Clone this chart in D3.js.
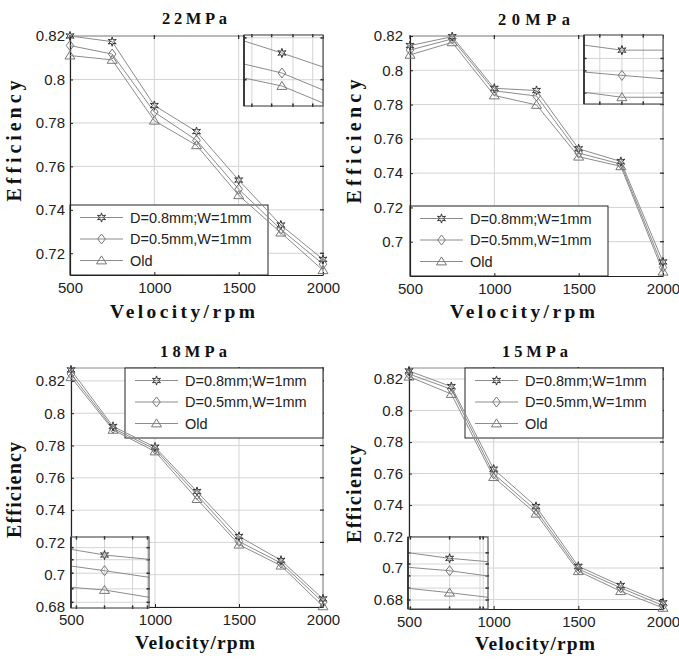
<!DOCTYPE html>
<html>
<head>
<meta charset="utf-8">
<script src="https://cdn.jsdelivr.net/npm/d3@7"></script>
<style>
  body { margin: 0; background: #fff; }
  svg { display: block; }
</style>
</head>
<body>
<svg id="chart" width="679" height="662"></svg>
<script>
// ---- data -------------------------------------------------------------
const velocity = [500, 750, 1000, 1250, 1500, 1750, 2000];
const seriesNames = ["D=0.8mm;W=1mm", "D=0.5mm,W=1mm", "Old"];
const xTicks = [500, 1000, 1500, 2000];

// efficiency per series, in the order of seriesNames
const eff22 = [
  [0.8200, 0.8174, 0.7880, 0.7760, 0.7537, 0.7330, 0.7172],
  [0.8156, 0.8117, 0.7850, 0.7720, 0.7495, 0.7310, 0.7150],
  [0.8110, 0.8090, 0.7810, 0.7697, 0.7467, 0.7295, 0.7122]
];
const eff20 = [
  [0.8144, 0.8196, 0.7895, 0.7882, 0.7542, 0.7468, 0.6882],
  [0.8118, 0.8183, 0.7880, 0.7850, 0.7517, 0.7453, 0.6850],
  [0.8090, 0.8163, 0.7853, 0.7798, 0.7496, 0.7440, 0.6825]
];
const eff18 = [
  [0.8268, 0.7918, 0.7790, 0.7515, 0.7237, 0.7089, 0.6850],
  [0.8243, 0.7907, 0.7777, 0.7495, 0.7206, 0.7072, 0.6829],
  [0.8223, 0.7897, 0.7763, 0.7468, 0.7186, 0.7056, 0.6804]
];
const eff15 = [
  [0.8251, 0.8152, 0.7628, 0.7391, 0.7011, 0.6889, 0.6779],
  [0.8232, 0.8135, 0.7598, 0.7366, 0.6994, 0.6874, 0.6762],
  [0.8215, 0.8105, 0.7577, 0.7345, 0.6980, 0.6853, 0.6747]
];

const yTicks22 = [0.72, 0.74, 0.76, 0.78, 0.8, 0.82];
const yTicks20 = [0.7, 0.72, 0.74, 0.76, 0.78, 0.8, 0.82];
const yTicks18 = [0.68, 0.7, 0.72, 0.74, 0.76, 0.78, 0.8, 0.82];
const yTicks15 = [0.68, 0.7, 0.72, 0.74, 0.76, 0.78, 0.8, 0.82];

// close-up windows: velocities [left edge, point, right edge] and values per series
const insetV22 = [1726, 1750, 1776];
const inset22 = [[0.7340, 0.7328, 0.7314], [0.7317, 0.7308, 0.7291], [0.7303, 0.7295, 0.7278]];
const insetV20 = [1726, 1750, 1776];
const inset20 = [[0.7471, 0.7468, 0.7468], [0.7455, 0.7453, 0.7451], [0.7443, 0.7440, 0.7440]];
const insetV18 = [978.5, 1000, 1028.5];
const inset18 = [[0.77957, 0.7790, 0.77857], [0.77790, 0.77743, 0.77677], [0.77577, 0.7755, 0.77477]];
const insetV15 = [974, 1000, 1024];
const inset15 = [[0.76336, 0.7628, 0.76246], [0.7619, 0.76156, 0.76103], [0.7598, 0.75936, 0.7589]];

// ---- layout -----------------------------------------------------------
const panels = [
  { title: "22MPa", data: eff22, yTicks: yTicks22, yDomain: [0.71, 0.82],
    box: { l: 70, r: 323, t: 36, b: 275 }, legend: "bl", ytPad: 5,
    title_: { x: 194.5, y: 24, len: 65 }, xLab: { x: 182.5, y: 318, len: 145 }, yLab: { x: 21, y: 141, len: 121 },
    inset: { v: insetV22, vals: inset22, dom: [0.7275, 0.7346], l: 244, r: 323, t: 35, b: 106,
             gx: [0.10, 0.35, 0.62, 0.87], gy: [0.04, 0.63] } },
  { title: "20MPa", data: eff20, yTicks: yTicks20, yDomain: [0.68, 0.82],
    box: { l: 410, r: 663, t: 36, b: 276 }, legend: "bl", ytPad: 7,
    title_: { x: 534, y: 25, len: 72 }, xLab: { x: 522.5, y: 318, len: 145 }, yLab: { x: 361, y: 141.5, len: 124 },
    inset: { v: insetV20, vals: inset20, dom: [0.7436, 0.7477], l: 584, r: 663, t: 35, b: 104,
             gx: [0.2, 0.48, 0.75], gy: [0.34, 0.52, 0.84] } },
  { title: "18MPa", data: eff18, yTicks: yTicks18, yDomain: [0.68, 0.828],
    box: { l: 71, r: 323, t: 368, b: 607 }, legend: "tr", ytPad: 6,
    title_: { x: 193.5, y: 357, len: 67 }, xLab: { x: 195, y: 649, len: 120 }, yLab: { x: 21, y: 490, len: 96 },
    inset: { v: insetV18, vals: inset18, dom: [0.7737, 0.7808], l: 71, r: 149, t: 537, b: 608,
             gx: [0.07, 0.43, 0.79, 0.98], gy: [0.15, 0.32, 0.51, 0.73, 0.92] } },
  { title: "15MPa", data: eff15, yTicks: yTicks15, yDomain: [0.674, 0.827],
    box: { l: 409, r: 663, t: 368, b: 609 }, legend: "tr", ytPad: 6,
    title_: { x: 535, y: 357, len: 66 }, xLab: { x: 535, y: 650, len: 120 }, yLab: { x: 361, y: 494, len: 98 },
    inset: { v: insetV15, vals: inset15, dom: [0.75773, 0.76493], l: 408, r: 488, t: 537, b: 609,
             gx: [0.03, 0.52, 0.9, 0.94], gy: [0.22, 0.375, 0.54, 0.71, 0.875] } }
];

const GRID = "#d4d4d4", LINE = "#8c8c8c", DARK = "#222";
const SANS = "'Liberation Sans', Arial, sans-serif";
const SERIF = "'Liberation Serif', 'Times New Roman', serif";

// ---- marker shapes ----------------------------------------------------
function starPath(ro, ri, n) {
  const pts = [];
  for (let i = 0; i < 2 * n; i++) {
    const a = -Math.PI / 2 + i * Math.PI / n;
    const r = i % 2 === 0 ? ro : ri;
    pts.push([r * Math.cos(a), r * Math.sin(a)]);
  }
  return "M" + pts.map(p => p[0].toFixed(2) + "," + p[1].toFixed(2)).join("L") + "Z";
}
const markerPaths = [
  starPath(4.6, 1.9, 6),
  "M0,-5L3.8,0L0,5L-3.8,0Z",
  "M0,-4.6L5,3.4L-5,3.4Z"
];
const markerStroke = ["#333", "#777", "#777"];

function drawMarker(sel, i, cx, cy) {
  sel.append("path")
    .attr("d", markerPaths[i])
    .attr("transform", `translate(${cx},${cy})`)
    .attr("fill", "none")
    .attr("stroke", markerStroke[i])
    .attr("stroke-width", 1);
}

const svg = d3.select("#chart");

function drawPanel(p) {
  const g = svg.append("g");
  const x = d3.scaleLinear().domain([500, 2000]).range([p.box.l, p.box.r]);
  const y = d3.scaleLinear().domain(p.yDomain).range([p.box.b, p.box.t]);

  // grid
  g.selectAll(".gx").data(xTicks).join("line")
    .attr("x1", d => x(d)).attr("x2", d => x(d))
    .attr("y1", p.box.t).attr("y2", p.box.b)
    .attr("stroke", GRID).attr("stroke-width", 1);
  g.selectAll(".gy").data(p.yTicks).join("line")
    .attr("x1", p.box.l).attr("x2", p.box.r)
    .attr("y1", d => y(d)).attr("y2", d => y(d))
    .attr("stroke", GRID).attr("stroke-width", 1);

  // top and right frame with inward ticks
  g.append("path")
    .attr("d", `M${p.box.l},${p.box.t}H${p.box.r}V${p.box.b}`)
    .attr("fill", "none").attr("stroke", "#8a8a8a").attr("stroke-width", 1);
  g.selectAll(".tr").data(p.yTicks).join("line")
    .attr("x1", p.box.r - 3).attr("x2", p.box.r + 1)
    .attr("y1", d => y(d)).attr("y2", d => y(d))
    .attr("stroke", DARK).attr("stroke-width", 1.2);
  g.selectAll(".tt").data(xTicks).join("line")
    .attr("x1", d => x(d)).attr("x2", d => x(d))
    .attr("y1", p.box.t - 1).attr("y2", p.box.t + 3)
    .attr("stroke", DARK).attr("stroke-width", 1.2);

  // legend frame (contents drawn above the curves)
  const lw = 198, lh = 70;
  const lx = p.legend === "bl" ? p.box.l : p.box.r - lw;
  const ly = p.legend === "bl" ? p.box.b - lh : p.box.t;
  g.append("rect")
    .attr("x", lx).attr("y", ly).attr("width", lw).attr("height", lh)
    .attr("fill", "#fff").attr("stroke", DARK).attr("stroke-width", 1);

  // axes
  const xAxis = d3.axisBottom(x).tickValues(xTicks).tickSize(-3).tickSizeOuter(0).tickPadding(7)
    .tickFormat(d => String(d));
  const yAxis = d3.axisLeft(y).tickValues(p.yTicks).tickSize(-3).tickSizeOuter(0).tickPadding(p.ytPad)
    .tickFormat(d => String(d));
  const ax = g.append("g").attr("transform", `translate(0,${p.box.b})`).call(xAxis);
  const ay = g.append("g").attr("transform", `translate(${p.box.l},0)`).call(yAxis);
  [ax, ay].forEach(a => {
    a.select(".domain").attr("stroke", DARK).attr("stroke-width", 1.2);
    a.selectAll(".tick line").attr("stroke", DARK);
    a.selectAll(".tick text").attr("fill", DARK).style("font-family", SANS).style("font-size", "15px");
  });

  // curves
  const line = d3.line().x((d, i) => x(velocity[i])).y(d => y(d));
  p.data.forEach((vals, si) => {
    g.append("path").attr("d", line(vals))
      .attr("fill", "none").attr("stroke", LINE).attr("stroke-width", 1);
  });
  p.data.forEach((vals, si) => {
    vals.forEach((v, i) => drawMarker(g, si, x(velocity[i]), y(v)));
  });

  // legend entries
  const rows = [12.5, 34, 55.5];
  seriesNames.forEach((name, si) => {
    const ry = ly + rows[si];
    g.append("line").attr("x1", lx + 10).attr("x2", lx + 53).attr("y1", ry).attr("y2", ry)
      .attr("stroke", LINE).attr("stroke-width", 1);
    drawMarker(g, si, lx + 31.5, ry);
    g.append("text").attr("x", lx + 60).attr("y", ry).attr("dy", "0.35em")
      .attr("fill", DARK).style("font-family", SANS).style("font-size", "14.5px")
      .text(name);
  });

  // close-up inset
  const s = p.inset;
  const ix = d3.scaleLinear().domain([s.v[0], s.v[2]]).range([s.l, s.r]);
  const iy = d3.scaleLinear().domain(s.dom).range([s.b, s.t]);
  const ig = g.append("g");
  ig.append("rect").attr("x", s.l).attr("y", s.t).attr("width", s.r - s.l).attr("height", s.b - s.t)
    .attr("fill", "#fff");
  s.gx.forEach(f => {
    const xx = s.l + f * (s.r - s.l);
    ig.append("line").attr("x1", xx).attr("x2", xx).attr("y1", s.t).attr("y2", s.b)
      .attr("stroke", GRID);
    ig.append("line").attr("x1", xx).attr("x2", xx).attr("y1", s.t - 1).attr("y2", s.t + 2.5)
      .attr("stroke", DARK).attr("stroke-width", 1.5);
    ig.append("line").attr("x1", xx).attr("x2", xx).attr("y1", s.b - 2.5).attr("y2", s.b + 1)
      .attr("stroke", DARK).attr("stroke-width", 1.5);
  });
  s.gy.forEach(f => {
    const yy = s.t + f * (s.b - s.t);
    ig.append("line").attr("x1", s.l).attr("x2", s.r).attr("y1", yy).attr("y2", yy)
      .attr("stroke", GRID);
    ig.append("line").attr("x1", s.r - 2.5).attr("x2", s.r + 1).attr("y1", yy).attr("y2", yy)
      .attr("stroke", DARK).attr("stroke-width", 1.5);
    ig.append("line").attr("x1", s.l - 1).attr("x2", s.l + 2.5).attr("y1", yy).attr("y2", yy)
      .attr("stroke", DARK).attr("stroke-width", 1.5);
  });
  const iline = d3.line().x((d, i) => ix(s.v[i])).y(d => iy(d));
  s.vals.forEach((vals, si) => {
    ig.append("path").attr("d", iline(vals))
      .attr("fill", "none").attr("stroke", LINE).attr("stroke-width", 1);
    drawMarker(ig, si, ix(s.v[1]), iy(vals[1]));
  });
  ig.append("rect").attr("x", s.l).attr("y", s.t).attr("width", s.r - s.l).attr("height", s.b - s.t)
    .attr("fill", "none").attr("stroke", "#555").attr("stroke-width", 1.2);
  ig.append("line").attr("x1", s.l).attr("x2", s.l).attr("y1", s.t).attr("y2", s.b)
    .attr("stroke", "#333").attr("stroke-width", 1.8);

  // titles
  g.append("text").attr("x", p.title_.x).attr("y", p.title_.y).attr("text-anchor", "middle")
    .attr("textLength", p.title_.len).attr("lengthAdjust", "spacing")
    .attr("fill", "#111").style("font-family", SERIF).style("font-weight", "bold").style("font-size", "16.5px")
    .text(p.title);
  g.append("text").attr("x", p.xLab.x).attr("y", p.xLab.y).attr("text-anchor", "middle")
    .attr("textLength", p.xLab.len).attr("lengthAdjust", "spacing")
    .attr("fill", "#111").style("font-family", SERIF).style("font-weight", "bold").style("font-size", "19.5px")
    .text("Velocity/rpm");
  g.append("text")
    .attr("transform", `translate(${p.yLab.x},${p.yLab.y}) rotate(-90)`)
    .attr("text-anchor", "middle")
    .attr("textLength", p.yLab.len).attr("lengthAdjust", "spacing")
    .attr("fill", "#111").style("font-family", SERIF).style("font-weight", "bold").style("font-size", "20px")
    .text("Efficiency");
}

panels.forEach(drawPanel);
</script>
</body>
</html>
